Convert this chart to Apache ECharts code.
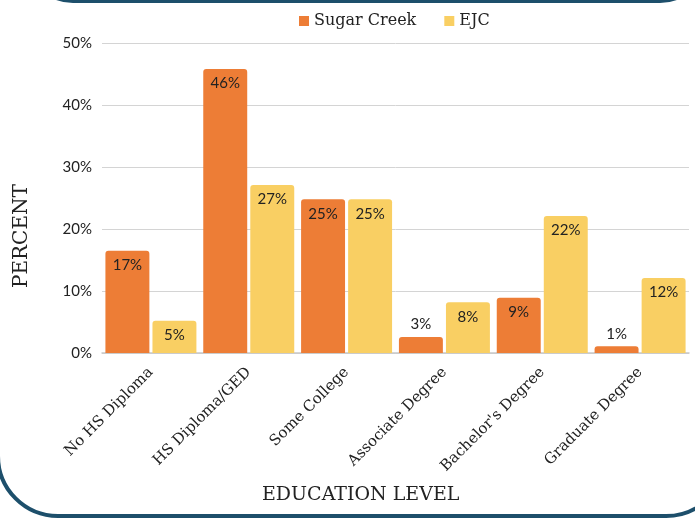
<!DOCTYPE html>
<html>
<head>
<meta charset="utf-8">
<script src="https://cdn.jsdelivr.net/npm/echarts@6/dist/echarts.min.js"></script>
<style>
  html, body { margin: 0; padding: 0; background: #fff; }
  #chart { width: 695px; height: 518px; }
</style>
</head>
<body>
<div id="chart"></div>
<script>
const categories = ["No HS Diploma", "HS Diploma/GED", "Some College", "Associate Degree", "Bachelor's Degree", "Graduate Degree"];
const sugarCreek = [16.5, 45.8, 24.8, 2.6, 8.9, 1.1];
const ejc = [5.2, 27.1, 24.8, 8.2, 22.1, 12.1];
const yTicks = [0, 10, 20, 30, 40, 50];

const serif = "DejaVu Serif";
const sans = "Lato";
const border = "#1d4f6b";

function barData(values) {
  // small bars get their label above the bar, the rest inside the top
  return values.map((v) => ({
    value: v,
    label: v < 4 ? { position: "top", distance: 5 } : { position: "insideTop", distance: 7 },
  }));
}

const chart = echarts.init(document.getElementById("chart"));
chart.setOption({
  animation: false,
  legend: {
    top: 8,
    left: 294,
    itemWidth: 10,
    itemHeight: 10,
    itemGap: 28,
    icon: "rect",
    textStyle: { fontFamily: serif, fontSize: 16, color: "#222" },
  },
  grid: { top: 43, bottom: 165, left: 102, right: 6 },
  xAxis: {
    type: "category",
    data: categories,
    axisLine: { lineStyle: { color: "#c8c8c8", width: 1.5 } },
    axisTick: { show: false },
    axisLabel: {
      rotate: 45,
      interval: 0,
      margin: 17,
      fontFamily: serif,
      fontSize: 15,
      color: "#222",
    },
  },
  yAxis: {
    type: "value",
    min: yTicks[0],
    max: yTicks[yTicks.length - 1],
    interval: 10,
    axisLine: { show: false },
    axisTick: { show: false },
    splitLine: { lineStyle: { color: "#d4d4d4", width: 1 } },
    axisLabel: {
      formatter: "{value}%",
      margin: 10,
      fontFamily: sans,
      fontSize: 15,
      color: "#222",
    },
  },
  series: [
    {
      name: "Sugar Creek",
      type: "bar",
      data: barData(sugarCreek),
      barGap: "7%",
      barCategoryGap: "7%",
      itemStyle: { color: "#ed7d36", borderRadius: [3, 3, 0, 0] },
      label: {
        show: true,
        fontFamily: sans,
        fontSize: 15,
        color: "#222",
        formatter: (p) => Math.round(p.value) + "%",
      },
    },
    {
      name: "EJC",
      type: "bar",
      data: barData(ejc),
      itemStyle: { color: "#f9cf63", borderRadius: [3, 3, 0, 0] },
      label: {
        show: true,
        fontFamily: sans,
        fontSize: 15,
        color: "#222",
        formatter: (p) => Math.round(p.value) + "%",
      },
    },
  ],
  graphic: [
    {
      type: "rect",
      silent: true,
      shape: { x: 28, y: -200, width: 677, height: 201, r: 45 },
      style: { fill: "none", stroke: border, lineWidth: 4 },
    },
    {
      type: "rect",
      silent: true,
      shape: { x: -2, y: -200, width: 728, height: 716, r: 60 },
      style: { fill: "none", stroke: border, lineWidth: 4 },
      z: -1,
    },
    {
      type: "text",
      x: 12,
      y: 288,
      rotation: Math.PI / 2,
      style: { text: "PERCENT", fontFamily: serif, fontSize: 20, fill: "#222" },
    },
    {
      type: "text",
      left: 262,
      top: 486,
      style: { text: "EDUCATION LEVEL", fontFamily: serif, fontSize: 19, fill: "#222" },
    },
  ],
});
</script>
</body>
</html>
